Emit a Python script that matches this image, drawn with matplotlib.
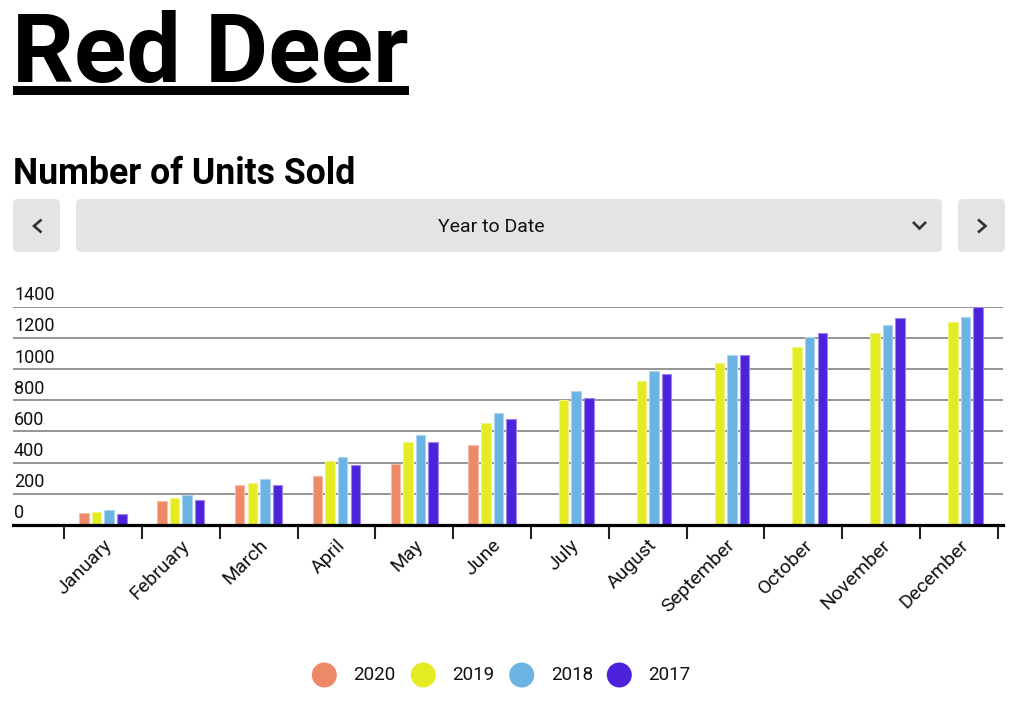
import matplotlib
matplotlib.use("Agg")
import matplotlib.pyplot as plt
from matplotlib.patches import FancyBboxPatch, Circle, Rectangle
from matplotlib.lines import Line2D
import numpy as np

plt.rcParams['font.family'] = ['Roboto', 'DejaVu Sans']

# ---- data ----
months = ["January", "February", "March", "April", "May", "June",
          "July", "August", "September", "October", "November", "December"]
series_names = ["2020", "2019", "2018", "2017"]
units_2020 = [75, 156, 256, 316, 393, 513, None, None, None, None, None, None]
units_2019 = [83, 171, 271, 410, 530, 654, 803, 921, 1038, 1139, 1231, 1301]
units_2018 = [96, 192, 295, 438, 575, 718, 857, 989, 1092, 1203, 1280, 1333]
units_2017 = [72, 158, 256, 385, 534, 682, 814, 966, 1090, 1229, 1325, 1400]
y_ticks = [0, 200, 400, 600, 800, 1000, 1200, 1400]
colors = ["#ED8966", "#E5EB23", "#6BB3E3", "#4C22DB"]
title = "Red Deer"
subtitle = "Number of Units Sold"
dropdown_text = "Year to Date"

W, H = 1017, 702
fig = plt.figure(figsize=(W / 100, H / 100), dpi=100)
fig.patch.set_facecolor("white")

# overlay axes in pixel coordinates (y downward)
ov = fig.add_axes([0, 0, 1, 1])
ov.set_xlim(0, W)
ov.set_ylim(H, 0)
ov.axis("off")
ov.patch.set_alpha(0)

# header
ov.text(12, 82, title, fontsize=69.8, fontweight="bold", color="black",
        ha="left", va="baseline")
ov.add_patch(Rectangle((13, 86), 396, 9, color="black", lw=0))
ov.text(13, 184, subtitle, fontsize=25.7, fontweight="bold", color="black",
        ha="left", va="baseline")

# buttons
btn_col = "#E4E4E4"
for (x0, x1) in [(13, 60), (76, 942), (958, 1005)]:
    ov.add_patch(FancyBboxPatch((x0 + 5, 199 + 5), (x1 - x0) - 10, 53 - 10,
                                boxstyle="round,pad=5", fc=btn_col, ec="none"))
chev = dict(color="#333333", lw=1.9, solid_capstyle="butt", solid_joinstyle="miter")
ov.add_line(Line2D([41.5, 34, 41.5], [219.5, 226, 232.5], **chev))
ov.add_line(Line2D([978, 985.5, 978], [219.5, 226, 232.5], **chev))
ov.add_line(Line2D([913, 919.5, 926], [222, 228.5, 222], **chev))
ov.text(491.5, 226.5, dropdown_text, fontsize=14, color="#111111",
        ha="center", va="center")

# legend
leg_circle_x = [324.3, 423.3, 521.7, 619.3]
for name, c, cx in zip(series_names, colors, leg_circle_x):
    ov.add_patch(Circle((cx, 675), 12.5, fc=c, ec="none"))
    ov.text(cx + 29, 675.5, name, fontsize=13.5, color="#111111",
            ha="left", va="center")

# ---- chart axes ----
ax_left, ax_right = 13, 1003
ax_top, ax_bottom = 306.7, 525
ax = fig.add_axes([ax_left / W, 1 - ax_bottom / H,
                   (ax_right - ax_left) / W, (ax_bottom - ax_top) / H])
ax.patch.set_alpha(0)

cat_w = (998 - 64) / 12.0
x_lo = -0.5 - (64 - ax_left) / cat_w
x_hi = 11.5 + (ax_right - 998) / cat_w
ax.set_xlim(x_lo, x_hi)
ax.set_ylim(0, 1400)

step = 12.6 / cat_w
bw = 9.5 / cat_w
x = np.arange(len(months))
all_series = [units_2020, units_2019, units_2018, units_2017]


def lighten(hexc, f=0.45):
    r, g, b = matplotlib.colors.to_rgb(hexc)
    return (r + (1 - r) * f, g + (1 - g) * f, b + (1 - b) * f)


for k, (vals, c) in enumerate(zip(all_series, colors)):
    xs = [xi + (k - 1.5) * step for xi, v in zip(x, vals) if v is not None]
    vs = [v for v in vals if v is not None]
    bars = ax.bar(xs, vs, width=bw, color=c, edgecolor=lighten(c), linewidth=0.8,
                  zorder=3)
    for b in bars:
        b.set_clip_on(False)

# gridlines
for v in y_ticks[1:]:
    ax.axhline(v, color="#8C8C8C", lw=1.3, zorder=1)

# y labels above gridlines
for v in y_ticks:
    ax.annotate(str(v), xy=(0, v), xycoords=ax.get_yaxis_transform(),
                xytext=(1, 6.5), textcoords="offset pixels",
                ha="left", va="baseline", fontsize=13, color="#111111")

ax.set_yticks([])
for s in ["top", "left", "right"]:
    ax.spines[s].set_visible(False)
ax.spines["bottom"].set_linewidth(2.3)
ax.spines["bottom"].set_color("black")
ax.spines["bottom"].set_zorder(4)

ax.set_xticks(x)
ax.set_xticklabels(months, rotation=45, ha="right", rotation_mode="anchor",
                   fontsize=14, color="#111111")
ax.tick_params(axis="x", which="major", length=0, pad=8)
ax.set_xticks(np.arange(-0.5, 12.0, 1.0), minor=True)
ax.tick_params(axis="x", which="minor", length=10, width=1.5, color="#222222")

fig.savefig("out.png", dpi=100, facecolor="white")
